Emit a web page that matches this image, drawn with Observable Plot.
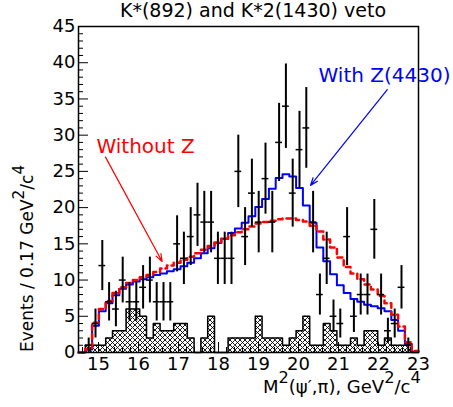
<!DOCTYPE html>
<html>
<head>
<meta charset="utf-8">
<script src="https://cdn.jsdelivr.net/npm/d3@7"></script>
<script src="https://cdn.jsdelivr.net/npm/@observablehq/plot@0.6"></script>
<style>
  body { margin: 0; background: #fff; }
  #chart svg { font-family: "DejaVu Sans", sans-serif; display: block; }
</style>
</head>
<body>
<div id="chart"></div>
<script>
// ---- data ----
const binLow = 14.5;          // GeV^2/c^4, first bin edge
const binWidth = 0.17;        // bin width
const xTicks = [15, 16, 17, 18, 19, 20, 21, 22, 23];
const yTicks = [0, 5, 10, 15, 20, 25, 30, 35, 40, 45];

// data events per bin
const counts = [0, 1, 4, 12, 7, 6, 10, 7, 7, 9,
                10, 7, 7, 7, 15, 13, 16, 19, 18, 18,
                13, 13, 13, 25, 16, 22, 18, 24, 18, 29,
                34, 22, 28, 31, 18, 8, 13, 5, 4, 16,
                5, 8, 8, 17, 8, 3, 4, 9, 1, 0];
// vertical error bar half-lengths
const errors = [0, 1, 2, 3.46, 2.65, 2.45, 3.16, 2.65, 2.65, 3,
                3.16, 2.65, 2.65, 2.65, 3.87, 3.61, 4, 4.36, 4.24, 4.24,
                3.61, 3.61, 3.61, 5, 4, 4.69, 4.24, 4.9, 4.24, 5.39,
                5.83, 4.69, 5.29, 5.57, 4.24, 2.83, 3.61, 2.24, 2, 4,
                2.24, 2.83, 2.83, 4.12, 2.83, 1.73, 2, 3, 1, 0];
// fit with Z(4430) (blue)
const withZ = [0, 0.4, 3.7, 5.7, 6.8, 7.9, 8.8, 9.4, 9.8, 10.1,
               10.4, 10.7, 10.9, 11.2, 11.5, 11.9, 12.4, 13.0, 13.7, 14.4,
               15.1, 15.7, 16.5, 17.1, 17.9, 18.8, 20.1, 21.2, 22.6, 24.1,
               24.6, 24.3, 22.7, 20.3, 17.9, 14.5, 12.6, 10.8, 9.3, 8.2,
               7.4, 7.0, 6.6, 6.4, 6.1, 5.7, 4.5, 3.0, 1.2, 0.1];
// fit without Z (red dashed)
const withoutZ = [0, 0.5, 4.1, 6.0, 7.1, 8.2, 9.0, 9.6, 10.0, 10.4,
                  10.7, 11.1, 11.6, 12.0, 12.4, 12.8, 13.2, 13.7, 14.2, 14.7,
                  15.2, 15.7, 16.2, 16.6, 17.0, 17.4, 17.8, 18.0, 18.2, 18.4,
                  18.5, 18.5, 18.3, 18.1, 17.5, 16.7, 15.6, 14.5, 13.1, 11.8,
                  10.9, 10.1, 9.4, 8.7, 7.8, 6.8, 5.2, 3.6, 1.4, 0.2];
// background (cross-hatched)
const background = [0, 1, 1, 1, 2, 3, 3, 6, 6, 5,
                    2, 4, 3, 3, 4, 4, 2, 0, 2, 5,
                    0, 0, 2, 2, 2, 2, 5, 2, 2, 2,
                    1, 2, 3, 5, 1, 1, 4, 3, 1, 1,
                    2, 1, 3, 3, 1, 2, 1, 1, 1, 0];

// annotations (data coordinates)
const noteLabels = [
  {text: "Without Z", x: 16.175, y: 27.5, color: "#ff0000", anchor: "middle"},
  {text: "With Z(4430)", x: 20.5, y: 37.33, color: "#0000ff", anchor: "start"}
];
const noteArrows = [
  {x1: 15.175, y1: 26.97, x2: 16.59, y2: 12.57, color: "#ff0000"},
  {x1: 22.22, y1: 36.28, x2: 20.3, y2: 23.07, color: "#0000ff"}
];

// ---- layout ----
const W = 453, H = 407;
const mL = 78, mR = 35, mT = 26, mB = 55;
const xDomain = [14.5, 23], yDomain = [0, 45];
const xPerPx = (xDomain[1] - xDomain[0]) / (W - mL - mR);
const yPerPx = (yDomain[1] - yDomain[0]) / (H - mT - mB);

// ---- tables ----
const bins = counts.map((n, i) => ({
  x0: binLow + i * binWidth,
  x1: binLow + (i + 1) * binWidth,
  xc: binLow + (i + 0.5) * binWidth,
  n, e: errors[i], withZ: withZ[i], withoutZ: withoutZ[i], bg: background[i]
}));
const last = bins[bins.length - 1];
const stepData = [...bins, {...last, x0: last.x1}];
const pts = bins.filter(d => d.n > 0);

const yMinor = d3.range(0, 46).filter(v => v % 5 !== 0);
const xMinor = d3.range(73, 115).filter(k => k % 5 !== 0).map(k => k / 5);

const plot = Plot.plot({
  width: W, height: H,
  marginLeft: mL, marginRight: mR, marginTop: mT, marginBottom: mB,
  x: {domain: xDomain, label: null},
  y: {domain: yDomain, label: null},
  style: {fontFamily: "DejaVu Sans", background: "#fff", overflow: "visible"},
  marks: [
    // background histogram
    Plot.rectY(bins, {x1: "x0", x2: "x1", y: "bg", fill: "url(#xhatch)"}),
    Plot.line(stepData, {x: "x0", y: "bg", curve: "step-after", stroke: "#000", strokeWidth: 1.5}),
    // fits
    Plot.line(stepData, {x: "x0", y: "withZ", curve: "step-after", stroke: "#0000ff", strokeWidth: 2}),
    Plot.line(stepData, {x: "x0", y: "withoutZ", curve: "step-after", stroke: "#ff0000", strokeWidth: 2.5, strokeDasharray: "5,4"}),
    // data points with errors
    Plot.ruleX(pts, {x: "xc", y1: d => d.n - d.e, y2: d => d.n + d.e, stroke: "#000", strokeWidth: 2}),
    Plot.ruleY(pts, {y: "n", x1: "x0", x2: "x1", stroke: "#000", strokeWidth: 1.5}),
    // annotations
    Plot.arrow([noteArrows[0]], {x1: "x1", y1: "y1", x2: "x2", y2: "y2", stroke: "#ff0000", strokeWidth: 1.2, headLength: 10, headAngle: 40}),
    Plot.arrow([noteArrows[1]], {x1: "x1", y1: "y1", x2: "x2", y2: "y2", stroke: "#0000ff", strokeWidth: 1.2, headLength: 10, headAngle: 40}),
    Plot.text([noteLabels[0]], {x: "x", y: "y", text: "text", fill: "#ff0000", fontSize: 20, textAnchor: "middle", lineAnchor: "bottom"}),
    Plot.text([noteLabels[1]], {x: "x", y: "y", text: "text", fill: "#0000ff", fontSize: 20, textAnchor: "start", lineAnchor: "bottom"}),
    // inward ticks
    Plot.ruleY(yTicks, {y: d => d, x1: () => xDomain[0], x2: () => xDomain[0] + 10 * xPerPx, stroke: "#000", strokeWidth: 1}),
    Plot.ruleY(yMinor, {y: d => d, x1: () => xDomain[0], x2: () => xDomain[0] + 5 * xPerPx, stroke: "#000", strokeWidth: 1}),
    Plot.ruleX(xTicks, {x: d => d, y1: () => yDomain[0], y2: () => yDomain[0] + 10 * yPerPx, stroke: "#000", strokeWidth: 1}),
    Plot.ruleX(xMinor, {x: d => d, y1: () => yDomain[0], y2: () => yDomain[0] + 5 * yPerPx, stroke: "#000", strokeWidth: 1}),
    Plot.frame({stroke: "#000", strokeWidth: 1.5}),
    Plot.axisX({ticks: xTicks, tickSize: 0, tickPadding: 5, fontSize: 18, label: null, tickFormat: d => String(d)}),
    Plot.axisY({ticks: yTicks, tickSize: 0, tickPadding: 3, fontSize: 18, label: null, tickFormat: d => String(d)})
  ]
});

// cross-hatch pattern
const svg = d3.select(plot);
const defs = svg.insert("defs", ":first-child");
const pat = defs.append("pattern").attr("id", "xhatch")
  .attr("patternUnits", "userSpaceOnUse").attr("width", 5).attr("height", 5);
pat.append("rect").attr("width", 5).attr("height", 5).attr("fill", "#fff");
pat.append("path").attr("d", "M-1,-1L6,6M6,-1L-1,6").attr("stroke", "#000").attr("stroke-width", 0.9);

// text helper with superscripts (shift applied to the next run)
function richText(sel, parts, fs) {
  let pending = 0;
  parts.forEach(p => {
    const t = sel.append("tspan").attr("font-size", p.sup ? fs * 0.9 : fs).text(p.t);
    const shift = (p.sup ? -0.55 * fs : 0) + pending;
    if (shift) t.attr("dy", shift);
    pending = p.sup ? 0.55 * fs : 0;
  });
}

// title
svg.append("text").attr("x", 253).attr("y", 17).attr("text-anchor", "middle")
  .attr("font-size", 19).attr("fill", "#000").text("K*(892) and K*2(1430) veto");

// x label
const xl = svg.append("text").attr("x", 263).attr("y", 393).attr("text-anchor", "start").attr("fill", "#000");
richText(xl, [{t: "M"}, {t: "2", sup: true}, {t: "(ψ′,π), GeV"}, {t: "2", sup: true}, {t: "/c"}, {t: "4", sup: true}], 18);

// y label
const yl = svg.append("text").attr("transform", "translate(33,352) rotate(-90)").attr("text-anchor", "start").attr("fill", "#000");
richText(yl, [{t: "Events / 0.17 GeV"}, {t: "2", sup: true}, {t: "/c"}, {t: "4", sup: true}], 17);

document.getElementById("chart").appendChild(plot);
</script>
</body>
</html>
